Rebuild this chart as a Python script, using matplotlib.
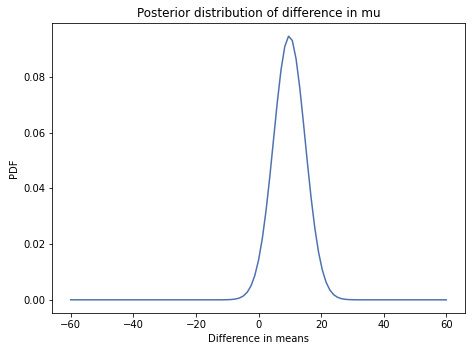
import numpy as np
import matplotlib
matplotlib.use("Agg")
from matplotlib import pyplot as plt

# grid of differences (101 points from -60 to 60)
diffs = np.linspace(-60, 60, 101)

# pdf values, only the non-zero part around the peak
peak_start = -10.8
peak_pdf = [0.0000222, 0.0000569, 0.000138, 0.000317, 0.000688, 0.00141,
            0.00273, 0.00500, 0.00865, 0.01415, 0.02186, 0.03193, 0.04407,
            0.05750, 0.07089, 0.08261, 0.09097, 0.09468, 0.09314, 0.08659,
            0.07608, 0.06317, 0.04957, 0.03677, 0.02578, 0.01707, 0.01069,
            0.00633, 0.00354, 0.00187, 0.000934, 0.000441, 0.000196,
            0.0000830, 0.0000331, 0.0000124]

pdf = np.zeros(len(diffs))
i0 = int(np.argmin(np.abs(diffs - peak_start)))
pdf[i0:i0 + len(peak_pdf)] = peak_pdf

fig, ax = plt.subplots(figsize=(472 / 72, 352 / 72), dpi=72)
fig.subplots_adjust(left=52 / 472, right=465 / 472, top=1 - 23 / 352, bottom=1 - 313 / 352)

ax.plot(diffs, pdf, color="#4c72b0", linewidth=1.5)
ax.set_xlabel("Difference in means")
ax.set_ylabel("PDF")
ax.set_title("Posterior distribution of difference in mu")

fig.savefig("out.png", dpi=72)
